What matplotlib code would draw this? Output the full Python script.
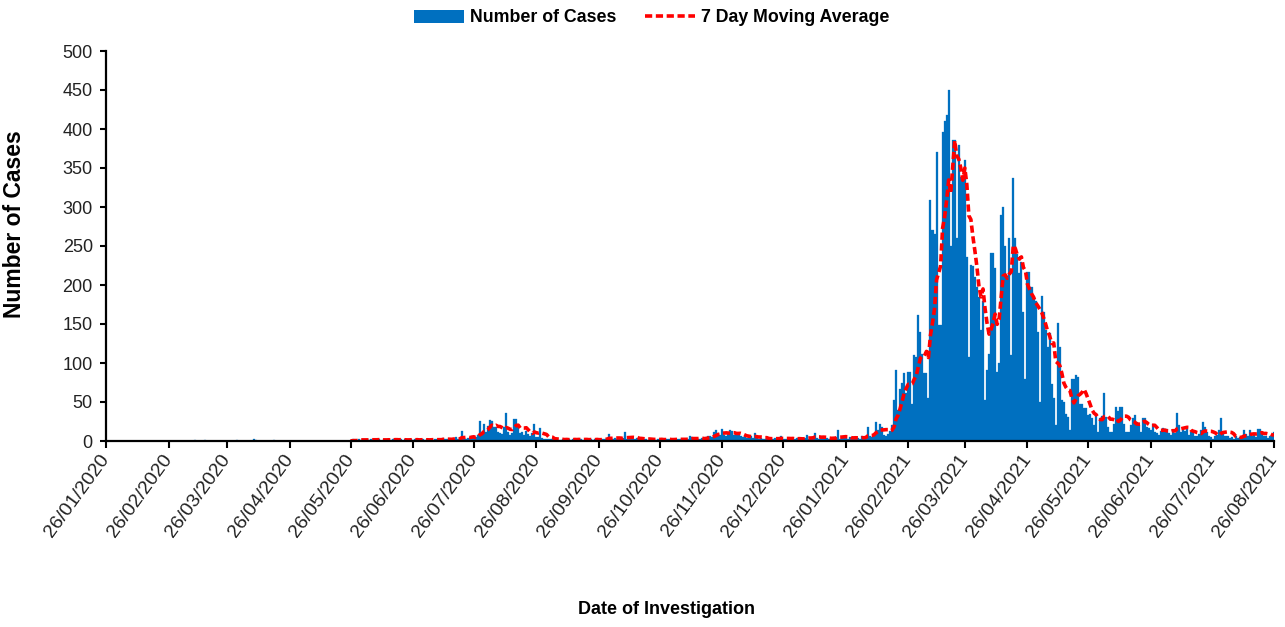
import numpy as np
import pandas as pd
import matplotlib
matplotlib.use("Agg")
import matplotlib.pyplot as plt
from matplotlib.patches import Patch
from matplotlib.lines import Line2D

# ---------------- data (daily counts) ----------------
start_date = "2020-01-26"
ma_start_date = "2020-05-26"

# 26/01/2020 - 25/05/2020
cases_early_2020 = [
    0, 0, 0, 0, 0, 0, 0, 0, 0, 0,
    0, 0, 0, 0, 0, 0, 0, 0, 0, 0,
    0, 0, 0, 0, 0, 0, 0, 0, 0, 0,
    0, 0, 0, 0, 0, 0, 0, 0, 0, 0,
    0, 0, 0, 0, 1, 0, 0, 0, 0, 1,
    0, 0, 0, 0, 0, 0, 0, 0, 0, 0,
    0, 0, 0, 0, 0, 1, 0, 0, 0, 0,
    0, 0, 0, 3, 1, 0, 0, 0, 0, 0,
    0, 0, 0, 1, 0, 0, 0, 0, 0, 0,
    0, 0, 0, 0, 0, 0, 0, 0, 0, 0,
    0, 0, 0, 0, 0, 0, 0, 0, 0, 0,
    0, 0, 0, 0, 0, 0, 0, 0, 0, 0,
    0,
]
# 26/05/2020 - 13/07/2020
cases_jun_2020 = [
    1, 2, 1, 0, 2, 1, 3, 1, 2, 1,
    2, 1, 1, 3, 2, 0, 1, 2, 1, 2,
    1, 2, 3, 1, 1, 2, 0, 2, 1, 3,
    2, 1, 2, 1, 0, 2, 3, 1, 2, 1,
    2, 1, 3, 2, 1, 2, 4, 2, 3,
]
# 14/07/2020 - 06/09/2020
cases_summer_2020 = [
    2, 1, 3, 5, 2, 3, 13, 4, 3, 4,
    2, 6, 6, 5, 8, 26, 11, 22, 11, 19,
    27, 26, 18, 18, 12, 10, 9, 18, 36, 12,
    8, 10, 28, 28, 20, 10, 12, 8, 13, 9,
    7, 10, 22, 5, 5, 17, 4, 3, 3, 2,
    3, 2, 4, 2, 1,
]
# 07/09/2020 - 27/12/2020
cases_autumn_2020 = [
    1, 2, 1, 3, 2, 1, 2, 3, 1, 2,
    2, 1, 3, 2, 1, 2, 1, 2, 3, 1,
    2, 3, 2, 4, 9, 3, 2, 4, 3, 2,
    3, 4, 11, 3, 5, 4, 3, 2, 4, 3,
    2, 3, 2, 1, 3, 2, 2, 1, 3, 2,
    2, 1, 2, 3, 2, 1, 2, 3, 2, 2,
    3, 2, 1, 3, 6, 5, 2, 3, 2, 3,
    4, 3, 5, 7, 6, 5, 12, 14, 10, 8,
    15, 8, 6, 10, 14, 13, 8, 9, 8, 7,
    5, 6, 4, 5, 6, 4, 10, 4, 3, 4,
    3, 2, 4, 3, 2, 3, 4, 3, 2, 6,
    3,
]
# 28/12/2020 - 11/02/2021
cases_winter_2021 = [
    2, 3, 4, 2, 3, 2, 4, 3, 2, 3,
    4, 8, 3, 4, 5, 10, 4, 3, 5, 4,
    3, 4, 3, 2, 4, 5, 14, 3, 4, 5,
    4, 3, 5, 4, 3, 5, 4, 3, 6, 4,
    6, 18, 7, 5, 9, 24, 14,
]
# 12/02/2021 - 11/05/2021
cases_wave_2021 = [
    22, 18, 8, 7, 9, 13, 20, 52, 91, 40,
    67, 74, 87, 62, 88, 88, 47, 110, 108, 161,
    140, 111, 87, 87, 55, 309, 270, 266, 371, 149,
    149, 396, 410, 418, 450, 250, 386, 386, 260, 380,
    339, 339, 360, 236, 108, 226, 225, 210, 197, 185,
    142, 180, 52, 91, 112, 241, 241, 222, 88, 100,
    290, 300, 250, 210, 260, 110, 337, 260, 240, 215,
    230, 165, 80, 217, 217, 198, 185, 180, 140, 50,
    186, 166, 142, 120, 138, 73, 55, 20, 151,
]
# 12/05/2021 - 26/08/2021
cases_tail_2021 = [
    120, 52, 50, 35, 31, 14, 80, 80, 84, 82,
    48, 48, 42, 42, 33, 35, 29, 20, 35, 12,
    29, 32, 62, 31, 18, 12, 12, 22, 43, 38,
    43, 43, 22, 12, 12, 20, 29, 33, 25, 20,
    12, 29, 29, 18, 17, 14, 22, 12, 10, 8,
    13, 17, 16, 15, 10, 8, 14, 10, 36, 20,
    12, 14, 13, 18, 8, 11, 12, 7, 6, 9,
    14, 24, 18, 11, 6, 5, 3, 6, 8, 14,
    29, 12, 7, 6, 4, 5, 3, 6, 4, 5,
    6, 14, 9, 7, 14, 6, 8, 5, 16, 15,
    11, 6, 7, 4, 6, 7, 11,
]

y_ticks = [0, 50, 100, 150, 200, 250, 300, 350, 400, 450, 500]
x_tick_start = "2020-01-26"
x_tick_end = "2021-08-26"

series_label = "Number of Cases"
ma_label = "7 Day Moving Average"
x_title = "Date of Investigation"
y_title = "Number of Cases"

# ---------------- build series ----------------
cases = (cases_early_2020 + cases_jun_2020 + cases_summer_2020 + cases_autumn_2020
         + cases_winter_2021 + cases_wave_2021 + cases_tail_2021)
dates = pd.date_range(start_date, periods=len(cases), freq="D")
s = pd.Series(cases, index=dates, dtype=float)
ma = s.rolling(7).mean()
ma = ma[ma.index >= pd.Timestamp(ma_start_date)]

x_ticks = pd.date_range(x_tick_start, x_tick_end, freq=pd.DateOffset(months=1))

# ---------------- plot ----------------
plt.rcParams["font.family"] = ["Liberation Sans", "DejaVu Sans"]

W, H = 1285, 627
fig = plt.figure(figsize=(W / 100, H / 100), dpi=100)
ax = fig.add_axes([106 / W, 1 - 441 / H, (1274 - 106) / W, (441 - 51) / H])

blue = "#0070C0"
red = "#FF0000"
ax.bar(s.index, s.values, width=1.0, color=blue, edgecolor=blue, linewidth=0.2,
       align="center", zorder=2)
ax.plot(ma.index, ma.values, color=red, lw=2.6, ls=(0, (2, 1)), zorder=3)

ax.set_xlim(dates[0], dates[-1])
ax.set_ylim(0, 500)
ax.set_yticks(y_ticks)
ax.set_yticklabels([str(v) for v in y_ticks], fontsize=13)
ax.set_xticks(x_ticks)
ax.set_xticklabels([d.strftime("%d/%m/%Y") for d in x_ticks], fontsize=14,
                   rotation=54, ha="right", va="center", rotation_mode="anchor")

for side in ("top", "right"):
    ax.spines[side].set_visible(False)
for side in ("left", "bottom"):
    ax.spines[side].set_linewidth(1.6)
    ax.spines[side].set_color("black")
    ax.spines[side].set_zorder(4)
ax.tick_params(axis="x", length=5, width=1.5, pad=6, colors="black")
ax.tick_params(axis="y", length=4.5, width=1.5, pad=5, colors="black")
for lab in ax.get_xticklabels() + ax.get_yticklabels():
    lab.set_color("#222222")

fig.text(666 / W, 1 - 610 / H, x_title, ha="center", va="center",
         fontsize=13, fontweight="bold")
fig.text(15 / W, 1 - 224 / H, y_title, ha="center", va="center", rotation=90,
         fontsize=16.5, fontweight="bold")

handles = [Patch(facecolor=blue, edgecolor="none"),
           Line2D([0], [0], color=red, lw=2.6, ls=(0, (2, 1)))]
fig.legend(handles, [series_label, ma_label], loc="center",
           bbox_to_anchor=(652 / W, 1 - 18 / H), ncol=2, frameon=False,
           prop={"size": 12.8, "weight": "bold"}, handlelength=2.8,
           handleheight=0.8, handletextpad=0.35, columnspacing=1.6,
           borderaxespad=0, borderpad=0)

fig.savefig("out.png", dpi=100)
